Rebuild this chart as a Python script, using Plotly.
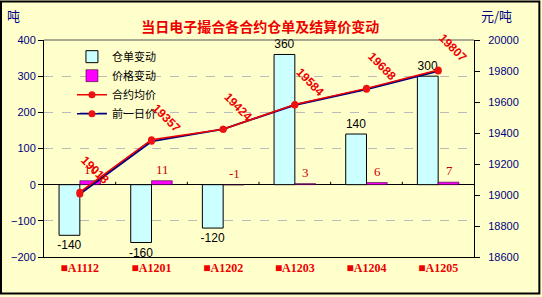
import plotly.graph_objects as go

categories = ["■A1112", "■A1201", "■A1202", "■A1203", "■A1204", "■A1205"]
receipt_change = [-140, -160, -120, 360, 140, 300]
price_change = [11, 11, -1, 3, 6, 7]
avg_price = [19018, 19357, 19424, 19584, 19688, 19807]
prev_price = [19007, 19346, 19425, 19581, 19682, 19800]

BG = "#FFFFCC"
NAVY = "#000080"

fig = go.Figure()
fig.add_trace(go.Bar(
    x=categories, y=receipt_change, name="仓单变动",
    marker=dict(color="#CCFFFF", line=dict(color="black", width=1)),
    text=[str(v) for v in receipt_change], textposition="outside",
    textfont=dict(family="Liberation Sans", size=12, color="black"),
    constraintext="none", cliponaxis=False,
))
fig.add_trace(go.Bar(
    x=categories, y=price_change, name="价格变动",
    marker=dict(color="#FF00FF", line=dict(color="black", width=0.5)),
))
fig.add_trace(go.Scatter(
    x=categories, y=prev_price, name="前一日价", yaxis="y2", mode="lines+markers",
    line=dict(color=NAVY, width=2), marker=dict(color="#EE1111", size=7),
    showlegend=False,
))
fig.add_trace(go.Scatter(
    x=categories, y=avg_price, name="合约均价", yaxis="y2", mode="lines+markers",
    line=dict(color="#EE0000", width=1.5), marker=dict(color="#EE1111", size=7),
))
fig.add_trace(go.Scatter(
    x=[None], y=[None], name="前一日价", yaxis="y2", mode="lines+markers",
    line=dict(color=NAVY, width=1.5), marker=dict(color="#EE1111", size=7),
))

annotations = []
for c, v in zip(categories, price_change):
    annotations.append(dict(
        x=c, y=max(v, 0), xref="x", yref="y", text=str(v), showarrow=False,
        xshift=11, yshift=2, yanchor="bottom",
        font=dict(family="Liberation Serif", size=13, color="#CC0000"),
    ))
for c, p in zip(categories, avg_price):
    annotations.append(dict(
        x=c, y=p, xref="x", yref="y2", text="<b>%d</b>" % p, showarrow=False,
        textangle=45, xshift=15, yshift=22,
        font=dict(family="Liberation Sans", size=12, color="#EE0000"),
    ))
annotations.append(dict(x=-0.072, y=1.115, xref="paper", yref="paper", text="吨",
                        xanchor="center", yanchor="middle", showarrow=False,
                        font=dict(family="Noto Sans CJK SC", size=13, color=NAVY)))
annotations.append(dict(x=1.053, y=1.115, xref="paper", yref="paper", text="元/吨",
                        xanchor="center", yanchor="middle", showarrow=False,
                        font=dict(family="Noto Sans CJK SC", size=13, color=NAVY)))

shapes = []
for i in range(len(categories) - 1):
    shapes.append(dict(type="line", xref="x", yref="y", x0=i + 0.5, x1=i + 0.5, y0=0, y1=8,
                       line=dict(color="black", width=1)))
shapes.append(dict(type="line", xref="paper", yref="paper", x0=0, x1=1, y0=1, y1=1,
                   line=dict(color="#555555", width=1)))
shapes.append(dict(type="rect", xref="paper", yref="paper", x0=-0.1, x1=1.152, y0=-0.168, y1=1.177,
                   line=dict(color="black", width=2)))

fig.update_layout(
    width=542, height=297,
    margin=dict(l=44, r=68, t=40, b=40),
    paper_bgcolor=BG, plot_bgcolor=BG,
    barmode="group", bargap=0.42, bargroupgap=0,
    title=dict(text="<b>当日电子撮合各合约仓单及结算价变动</b>", x=0.48, xanchor="center",
               y=0.91, yanchor="middle",
               font=dict(family="Noto Sans CJK SC", size=14, color="#EE0000")),
    font=dict(family="Liberation Sans"),
    legend=dict(x=0.065, y=0.99, xanchor="left", yanchor="top", bgcolor="rgba(0,0,0,0)",
                font=dict(family="Noto Sans CJK SC", size=11, color="black"),
                tracegroupgap=0, itemwidth=30),
    xaxis=dict(type="category", showline=True, linecolor="black", linewidth=1, mirror=False,
               ticks="", showgrid=False,
               tickfont=dict(family="Liberation Serif", size=12, color="#EE0000", weight="bold")),
    yaxis=dict(range=[-200, 400], dtick=100, showline=True, linecolor="black", linewidth=1,
               ticks="outside", ticklen=5, tickcolor="black",
               showgrid=True, gridcolor="#BBBBBB", griddash="dash", gridwidth=1,
               zeroline=True, zerolinecolor="black", zerolinewidth=1,
               tickfont=dict(family="Liberation Sans", size=11, color=NAVY)),
    yaxis2=dict(range=[18600, 20000], dtick=200, tickformat="d", overlaying="y", side="right",
                showline=True, linecolor="black", linewidth=1, ticks="outside", ticklen=5,
                tickcolor="black", showgrid=False, zeroline=False, ticklabelstandoff=6,
                tickfont=dict(family="Liberation Sans", size=11, color=NAVY)),
    annotations=annotations, shapes=shapes,
)

fig.write_html("out.html")
